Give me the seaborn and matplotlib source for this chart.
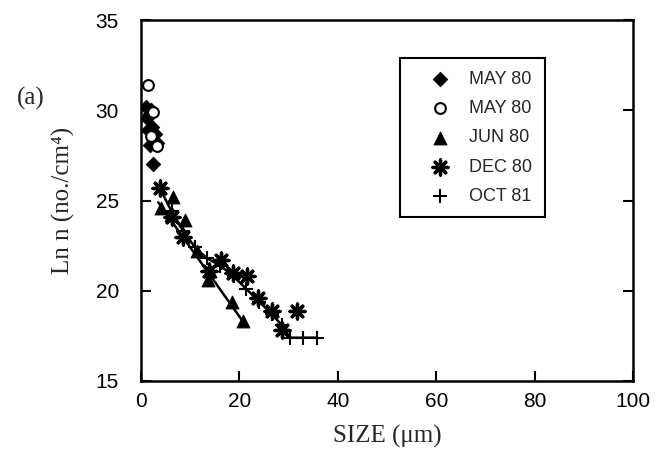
import matplotlib
matplotlib.use('Agg')
import matplotlib.pyplot as plt
import seaborn as sns

# données
may80_fill_x = [1.8, 1.2, 2.2, 1.4, 2.8, 3.2, 1.8, 2.4, 1.0, 2.0]
may80_fill_y = [29.8, 29.6, 29.1, 28.9, 28.7, 28.2, 28.1, 27.05, 30.2, 30.0]
may80_open_x = [1.4, 2.4, 3.2, 2.0]
may80_open_y = [31.4, 29.9, 28.0, 28.6]
jun80_x = [4.0, 6.5, 6.1, 8.9, 11.4, 13.6, 14.0, 18.5, 20.7]
jun80_y = [24.6, 25.2, 24.2, 23.9, 22.2, 20.6, 21.1, 19.4, 18.3]
dec80_x = [3.8, 6.3, 8.5, 13.8, 16.3, 18.7, 21.5, 23.8, 26.6, 28.7, 31.7]
dec80_y = [25.7, 24.1, 23.0, 21.1, 21.7, 21.0, 20.8, 19.6, 18.9, 17.8, 18.9]
oct81_x = [3.8, 6.2, 8.6, 11.0, 13.4, 16.1, 18.8, 21.4, 24.0, 26.6, 28.6, 30.3, 33.0, 35.8]
oct81_y = [25.7, 24.4, 23.3, 22.4, 21.8, 21.4, 20.8, 20.1, 19.4, 18.7, 18.1, 17.4, 17.4, 17.4]
jun_fit_x = [3.5, 20.7]
jun_fit_y = [24.9, 18.3]

xticks = [0, 20, 40, 60, 80, 100]
yticks = [15, 20, 25, 30, 35]

sns.set_style('ticks')
plt.rcParams['font.family'] = ['Liberation Sans', 'DejaVu Sans']
serif = ['Liberation Serif', 'DejaVu Serif']

fig = plt.figure(figsize=(6.56, 4.59), dpi=100)
ax = fig.add_axes([0.215, 0.170, 0.750, 0.786])

# lignes
sns.lineplot(x=jun_fit_x, y=jun_fit_y, color='black', lw=1.8, ax=ax, legend=False)
sns.lineplot(x=oct81_x, y=oct81_y, color='black', lw=1.8, sort=False, ax=ax, legend=False)

# points
sns.scatterplot(x=may80_fill_x, y=may80_fill_y, marker='D', s=55, color='black',
                edgecolor='black', label='MAY 80', ax=ax, zorder=3)
sns.scatterplot(x=may80_open_x, y=may80_open_y, marker='o', s=60, facecolor='white',
                edgecolor='black', linewidth=1.5, label='MAY 80', ax=ax, zorder=3)
sns.scatterplot(x=jun80_x, y=jun80_y, marker='^', s=85, color='black',
                edgecolor='black', label='JUN 80', ax=ax, zorder=3)
sns.scatterplot(x=dec80_x, y=dec80_y, marker=(8, 2, 0), s=115, color='black',
                linewidth=2.4, label='DEC 80', ax=ax, zorder=3)
sns.scatterplot(x=oct81_x, y=oct81_y, marker='+', s=90, color='black',
                linewidth=1.5, label='OCT 81', ax=ax, zorder=3)

ax.set_xlim(0, 100)
ax.set_ylim(15, 35)
ax.set_xticks(xticks)
ax.set_yticks(yticks)
ax.tick_params(direction='in', length=7, width=1.5, labelsize=15,
               right=True, colors='black')
ax.tick_params(axis='x', pad=8)
ax.tick_params(axis='y', pad=16)
for sp in ax.spines.values():
    sp.set_linewidth(1.8)
    sp.set_color('black')

ax.set_xlabel('SIZE (μm)', family=serif, fontsize=18, labelpad=10)
ax.set_ylabel('Ln n (no./cm⁴)', family=serif, fontsize=18, labelpad=15)
fig.text(0.047, 0.785, '(a)', family=serif, fontsize=18, ha='center', va='center')

leg = ax.legend(loc='upper left', bbox_to_anchor=(0.526, 0.895), fontsize=13,
                frameon=True, fancybox=False, edgecolor='black', framealpha=1,
                borderaxespad=0, labelspacing=0.68, handletextpad=0.1,
                borderpad=0.7, handlelength=3.05)
leg.get_frame().set_linewidth(1.5)

plt.savefig('out.png', dpi=100)
plt.close()
